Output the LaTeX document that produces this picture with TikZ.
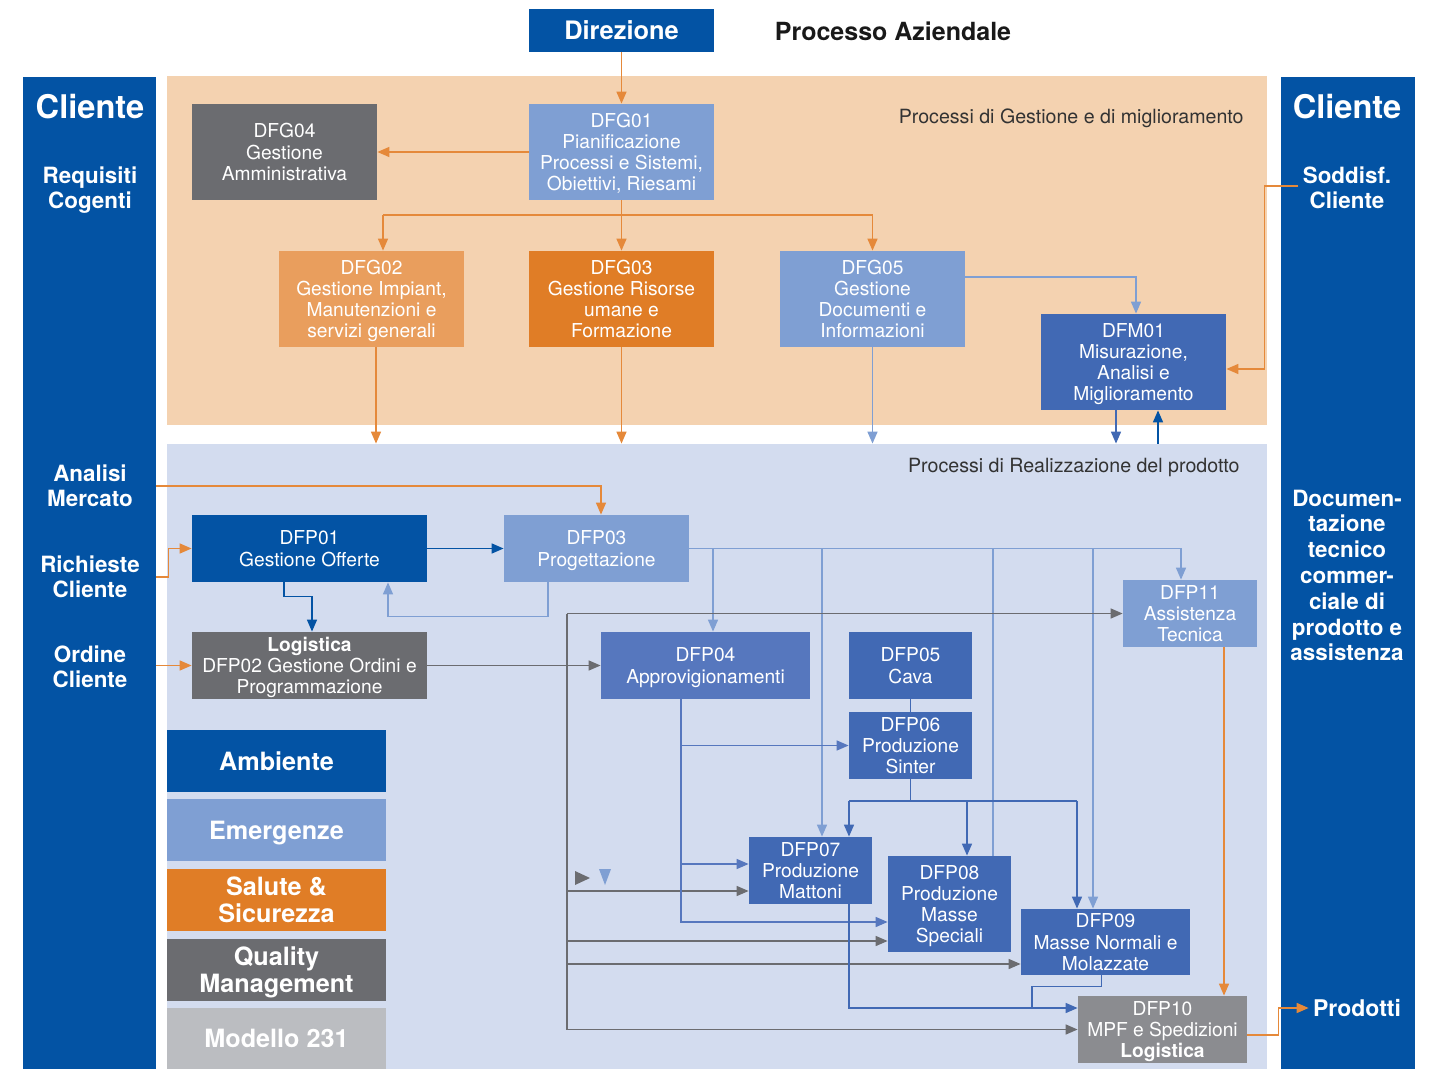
\documentclass[tikz,border=0pt]{standalone}
\usepackage{fontspec}
\setmainfont{TeX Gyre Heros}
\usetikzlibrary{arrows.meta}
\definecolor[named]{QDarkBlue}{HTML}{0353A4}
\definecolor[named]{QLightBlue}{HTML}{7F9FD3}
\definecolor[named]{QMidBlue}{HTML}{5677BE}
\definecolor[named]{QBlue}{HTML}{4169B4}
\definecolor[named]{QGray}{HTML}{6B6C70}
\definecolor[named]{QMidGray}{HTML}{8B8C90}
\definecolor[named]{QLightGray}{HTML}{BBBDC1}
\definecolor[named]{QOrange}{HTML}{E07D26}
\definecolor[named]{QLightOrange}{HTML}{E99E5D}
\definecolor[named]{QPeach}{HTML}{F4D2B0}
\definecolor[named]{QLavender}{HTML}{D3DCEF}
\definecolor[named]{QLineOrange}{HTML}{E5893A}
\newcommand{\boxfont}{\fontsize{9.6}{10.6}\selectfont}
\newcommand{\sidefont}{\fontsize{11.2}{12.6}\selectfont\bfseries}
\newcommand{\legfont}{\fontsize{12.6}{13.6}\selectfont\bfseries}
\tikzset{
  proc/.style={rectangle,inner sep=0pt,align=center,text=white,font=\boxfont,text depth=-2pt},
  side/.style={align=center,text=white,font=\sidefont,inner sep=2pt},
  legend/.style={rectangle,inner sep=0pt,align=center,text=white,font=\legfont,
    minimum width=109.5pt,minimum height=31pt,text depth=-1.5pt},
  link/.style={line width=0.75pt},
  flow/.style={link,-{Triangle[length=6pt,width=5pt]}},
}

\begin{document}
\begin{tikzpicture}[x=0.5pt,y=-0.5pt]
  \useasboundingbox (0,0) rectangle (1429,1069);

  % Regions and customer columns
  \node[fill=QPeach,inner sep=0pt,minimum width=550pt,minimum height=174.5pt] (M) at (717,250.5) {};
  \node[fill=QLavender,inner sep=0pt,minimum width=550pt,minimum height=312.5pt] (R) at (717,756.5) {};
  \node[fill=QDarkBlue,inner sep=0pt,minimum width=66.5pt,minimum height=496pt] (CL) at (89.5,573) {};
  \node[fill=QDarkBlue,inner sep=0pt,minimum width=67pt,minimum height=496pt] (CR) at (1348,573) {};

  % Titles
  \node[proc,fill=QDarkBlue,font=\fontsize{12.7}{14}\selectfont\bfseries,
    minimum width=92.5pt,minimum height=21.5pt] (D) at (621.5,30.5) {Direzione};
  \node[font=\fontsize{12.5}{14}\selectfont\bfseries,text=black!90] (T) at (893,31) {Processo Aziendale};
  \node[anchor=east,inner sep=0pt,font=\fontsize{9.8}{11}\selectfont,text=black!80] (TM) at (1244,118)
    {Processi di Gestione e di miglioramento};
  \node[anchor=east,inner sep=0pt,font=\fontsize{9.8}{11}\selectfont,text=black!80] (TR) at (1240,467)
    {Processi di Realizzazione del prodotto};

  % Column labels
  \node[side,font=\fontsize{16.3}{18}\selectfont\bfseries] (CLT) at (90,107) {Cliente};
  \node[side,font=\fontsize{16.3}{18}\selectfont\bfseries] (CRT) at (1347,107) {Cliente};
  \node[side] (RQ) at (90,190) {Requisiti\\Cogenti};
  \node[side] (AM) at (90,486) {Analisi\\Mercato};
  \node[side] (RC) at (90,577) {Richieste\\Cliente};
  \node[side] (OC) at (90,667) {Ordine\\Cliente};
  \node[side] (SR) at (1347,188) {Soddisf.\\Cliente};
  \node[side,font=\fontsize{11.2}{12.9}\selectfont\bfseries] (DR) at (1347,575.5)
    {Documen-\\tazione\\tecnico\\commer-\\ciale di\\prodotto e\\assistenza};
  \node[side,font=\fontsize{11.5}{13}\selectfont\bfseries] (PR) at (1357,1008) {Prodotti};

  % Management boxes
  \begin{scope}[every node/.style={proc,minimum width=92.5pt,minimum height=48pt}]
    \node[fill=QGray] (G4) at (284.5,152) {DFG04\\Gestione\\Amministrativa};
    \node[fill=QLightBlue] (G1) at (621.5,152) {DFG01\\Pianificazione\\Processi e Sistemi,\\Obiettivi, Riesami};
    \node[fill=QLightOrange] (G2) at (371.5,299) {DFG02\\Gestione Impiant,\\Manutenzioni e\\servizi generali};
    \node[fill=QOrange] (G3) at (621.5,299) {DFG03\\Gestione Risorse\\umane e\\Formazione};
    \node[fill=QLightBlue] (G5) at (872.5,299) {DFG05\\Gestione\\Documenti e\\Informazioni};
    \node[fill=QBlue] (M1) at (1133.5,362) {DFM01\\Misurazione,\\Analisi e\\Miglioramento};
  \end{scope}

  % Production boxes
  \begin{scope}[every node/.style={proc,minimum height=33.5pt}]
    \node[fill=QDarkBlue,minimum width=117.5pt] (P1) at (309.5,548.5) {DFP01\\Gestione Offerte};
    \node[fill=QLightBlue,minimum width=92.5pt] (P3) at (596.5,548.5) {DFP03\\Progettazione};
    \node[fill=QGray,minimum width=117.5pt] (P2) at (309.5,665.5)
      {{\bfseries Logistica}\\DFP02 Gestione Ordini e\\Programmazione};
    \node[fill=QMidBlue,minimum width=104.5pt] (P4) at (705.5,665.5) {DFP04\\Approvigionamenti};
    \node[fill=QBlue,minimum width=61.5pt] (P5) at (910.5,665.5) {DFP05\\Cava};
    \node[fill=QBlue,minimum width=61.5pt] (P6) at (910.5,745.5) {DFP06\\Produzione\\Sinter};
    \node[fill=QLightBlue,minimum width=67pt] (P11) at (1190,613.5) {DFP11\\Assistenza\\Tecnica};
    \node[fill=QBlue,minimum width=61.5pt] (P7) at (810.5,870.5) {DFP07\\Produzione\\Mattoni};
    \node[fill=QBlue,minimum width=61.5pt,minimum height=48pt] (P8) at (949.5,904)
      {DFP08\\Produzione\\Masse\\Speciali};
    \node[fill=QBlue,minimum width=84.5pt,minimum height=33pt] (P9) at (1105.5,942)
      {DFP09\\Masse Normali e\\Molazzate};
    \node[fill=QMidGray,minimum width=84.5pt] (P10) at (1162.5,1029.5)
      {DFP10\\MPF e Spedizioni\\{\bfseries Logistica}};
  \end{scope}

  % Legend
  \node[legend,fill=QDarkBlue] (L1) at (276.5,761) {Ambiente};
  \node[legend,fill=QLightBlue] (L2) at (276.5,830) {Emergenze};
  \node[legend,fill=QOrange] (L3) at (276.5,900) {Salute \&\\Sicurezza};
  \node[legend,fill=QGray] (L4) at (276.5,970) {Quality\\Management};
  \node[legend,fill=QLightGray,minimum height=30.5pt] (L5) at (276.5,1038.5) {Modello 231};

  % Management flows
  \draw[flow,QLineOrange] (D) -- (G1);
  \draw[flow,QLineOrange] (G1) -- (G4);
  \coordinate (GL) at (383,215);
  \coordinate (GR) at (872.5,215);
  \draw[link,QLineOrange] (GL) -- (GR);
  \draw[flow,QLineOrange] (G1) -- (G3);
  \draw[flow,QLineOrange] (GL) -- (GL |- G2.north);
  \draw[flow,QLineOrange] (GR) -- (G5);
  \coordinate (G5M) at (1136,277);
  \draw[flow,QLightBlue] (G5.east |- G5M) -| (G5M |- M1.north);
  \draw[flow,QLineOrange] ([yshift=1pt]SR.west) -- ++(-17pt,0) |- ([yshift=-3.5pt]M1.east);

  % Into the production area
  \draw[flow,QLineOrange] ([xshift=2.25pt]G2.south) -- ([xshift=2.25pt]G2.south |- R.north);
  \draw[flow,QLineOrange] (G3.south) -- (G3.south |- R.north);
  \draw[flow,QLightBlue] (G5.south) -- (G5.south |- R.north);
  \draw[flow,QBlue] ([xshift=-8.75pt]M1.south) -- ([xshift=-8.75pt]M1.south |- R.north);
  \draw[flow,QDarkBlue] ([xshift=12.25pt]M1.south |- R.north) -- ([xshift=12.25pt]M1.south);

  % Customer inputs
  \draw[flow,QLineOrange] (CL.east |- AM) -| ([xshift=2.25pt]P3.north);
  \draw[flow,QLineOrange] (CL.east |- RC) -- ++(6pt,0) |- (P1.west);
  \draw[flow,QLineOrange] (CL.east |- P2) -- (P2);

  % Offers, design and orders
  \draw[flow,QDarkBlue] (P1) -- (P3);
  \draw[flow,QDarkBlue] ([xshift=-12.75pt]P1.south) -- ++(0,-7pt) -| ([xshift=1.25pt]P2.north);
  \draw[flow,QLightBlue] ([xshift=-24.25pt]P3.south) -- ++(0,-17pt) -| ([xshift=39.25pt]P1.south);
  \draw[flow,QGray] (P2) -- (P4);

  % Design bus
  \draw[flow,QLightBlue] (P3.east) -| ([xshift=-4.5pt]P11.north);
  \foreach \bx/\tgt in {713/P4,822/P7,1093/P9}{
    \coordinate (bb) at (\bx,548.5);
    \draw[flow,QLightBlue] (bb) -- (bb |- \tgt.north);
  }
  \coordinate (B8) at (993,548.5);
  \draw[link,QLightBlue] (B8) -- (B8 |- P8.north);

  % Order bus
  \coordinate (GB) at (567,613.5);
  \draw[flow,QGray] (GB) -- (GB -| P11.west);
  \draw[flow,QGray] (GB) |- (P10.west);
  \foreach \gy/\tgt in {891/P7,941/P8,964/P9}{
    \coordinate (gb) at (567,\gy);
    \draw[flow,QGray] (gb) -- (gb -| \tgt.west);
  }

  % Supply bus
  \coordinate (A4) at (681,922);
  \draw[flow,QMidBlue] (P4.south -| A4) |- (A4 -| P8.west);
  \foreach \ay/\tgt in {745.5/P6,864/P7}{
    \coordinate (a4) at (681,\ay);
    \draw[flow,QMidBlue] (a4) -- (a4 -| \tgt.west);
  }

  % Sinter bus
  \draw[link,QBlue] (P5) -- (P6);
  \coordinate (S6) at (910.5,801);
  \coordinate (S7) at (849,801);
  \coordinate (S8) at (967,801);
  \coordinate (S9) at (1077,801);
  \draw[link,QBlue] (P6) -- (S6);
  \draw[link,QBlue] (S7) -- (S9);
  \foreach \s/\tgt in {S7/P7,S8/P8,S9/P9}
    \draw[flow,QBlue] (\s) -- (\s |- \tgt.north);

  % To shipping
  \coordinate (K7) at (849,1008);
  \coordinate (K9) at (1032,1008);
  \draw[flow,QBlue] (P7.south -| K7) |- (K7 -| P10.west);
  \draw[link,QBlue] ([xshift=-2pt]P9.south) -- ++(0,-5.5pt) -| (K9);
  \draw[flow,QLineOrange] ([xshift=17pt]P11.south) -- ([xshift=17pt]P11.south |- P10.north);
  \draw[flow,QLineOrange] ([yshift=-2.75pt]P10.east) -- ++(15.5pt,0) |- (PR.west);

  % Loose marks
  \fill[QGray] (575,871) -- (590,878) -- (575,885) -- cycle;
  \fill[QLightBlue] (599,869) -- (611,869) -- (605,885) -- cycle;
\end{tikzpicture}
\end{document}
